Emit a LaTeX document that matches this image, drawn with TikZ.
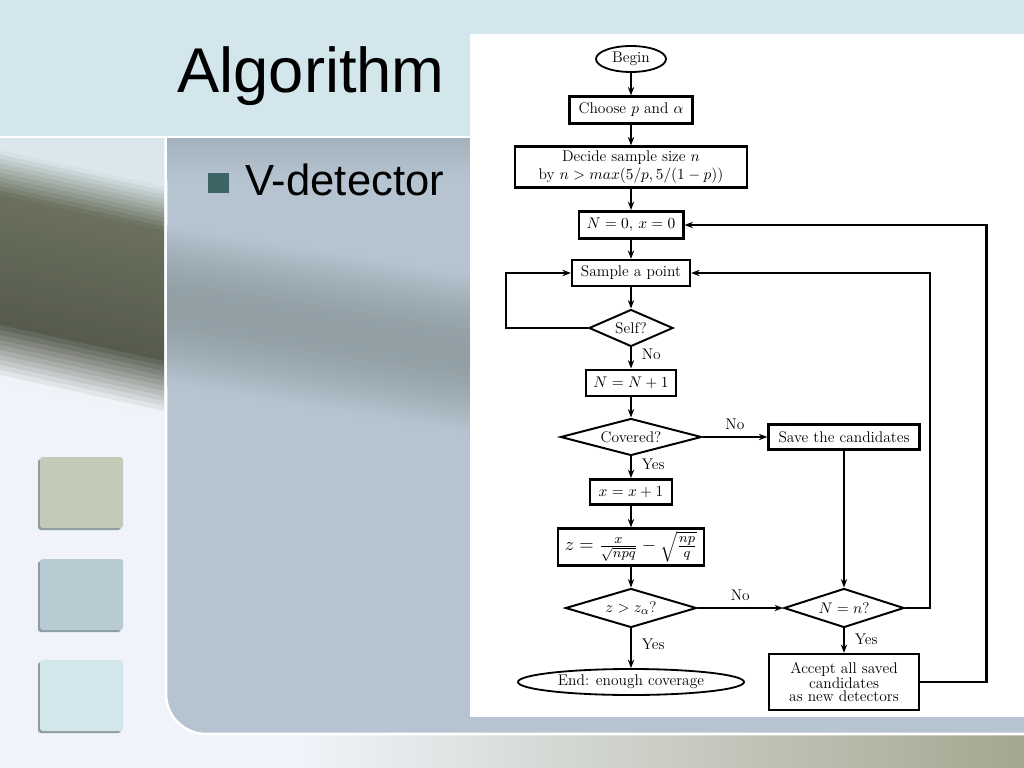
\documentclass[tikz,border=0pt]{standalone}
\usepackage{fontspec}
\newfontfamily\slidefont{Liberation Sans}
\usetikzlibrary{shapes.geometric, arrows.meta}
\definecolor{topband}{HTML}{D2E6EC}
\definecolor{slidebg}{HTML}{F0F4FA}
\definecolor{panelblue}{HTML}{B5C4D0}
\definecolor{paneltop}{HTML}{A3B2BC}
\definecolor{bandgray}{HTML}{919FA5}
\definecolor{photolight}{HTML}{DAE8EE}
\definecolor{olivedark}{HTML}{6A705C}
\definecolor{olivedeep}{HTML}{565B4D}
\definecolor{stripolive}{HTML}{A3A78F}
\definecolor{bulletgreen}{HTML}{3F6466}
\definecolor{sqolive}{HTML}{C3CBB8}
\definecolor{sqblue}{HTML}{B8CBD3}
\definecolor{sqice}{HTML}{D2E6EC}
\definecolor{sqshadow}{HTML}{8C9CA3}

\tikzset{
  flowtext/.style={font=\fontsize{11}{10.5}\selectfont},
  procbox/.style={flowtext, draw, rectangle, line width=1.6pt, align=center, inner sep=1pt},
  boldbox/.style={procbox, line width=2.1pt},
  decision/.style={flowtext, draw, diamond, aspect=3.5, line width=1.4pt, inner sep=0pt},
  terminal/.style={flowtext, draw, ellipse, line width=1.3pt, inner sep=0pt},
  flowarrow/.style={-{Stealth[length=6pt,width=4.5pt]}, line width=1.4pt},
  looparrow/.style={flowarrow, line width=2.1pt},
  thinarrow/.style={flowarrow, line width=0.9pt},
  flowlabel/.style={flowtext, inner sep=1pt}
}

\begin{document}
\begin{tikzpicture}[x=0.025cm, y=-0.025cm]
\clip (0,0) rectangle (1024,768);
% slide background
\fill[slidebg] (0,0) rectangle (1024,768);
\shade[left color=slidebg, right color=stripolive] (300,735) rectangle (1024,768);
% left photo strip, slanted bands
\begin{scope}
  \clip (0,138) rectangle (164,735);
  \fill[photolight] (0,100) -- (164,136) -- (164,186) -- (0,150) -- cycle;
  \foreach \k in {0,...,9}{
    \pgfmathtruncatemacro\pct{\k*10+5}
    \fill[olivedark!\pct!photolight] (0,150+4.5*\k) -- (164,186+4.5*\k) -- (164,191.5+4.5*\k) -- (0,155.5+4.5*\k) -- cycle;
  }
  \foreach \k in {0,...,24}{
    \pgfmathtruncatemacro\pct{\k*4}
    \fill[olivedeep!\pct!olivedark] (0,195+5*\k) -- (164,231+5*\k) -- (164,236.5+5*\k) -- (0,200.5+5*\k) -- cycle;
  }
  \foreach \k in {0,...,11}{
    \pgfmathtruncatemacro\pct{\k*9}
    \fill[slidebg!\pct!olivedeep] (0,320+5*\k) -- (164,356+5*\k) -- (164,361.5+5*\k) -- (0,325.5+5*\k) -- cycle;
  }
\end{scope}
% middle panel
\fill[panelblue, draw=white, line width=1.8pt, rounded corners=1cm] (166,-100) rectangle (1100,734);
\begin{scope}
  \clip[rounded corners=1cm] (167,-100) rectangle (1100,733);
  \shade[top color=paneltop, bottom color=panelblue] (167,138) rectangle (1024,180);
  \foreach \k in {0,...,39}{
    \pgfmathtruncatemacro\pct{100*sin(\k*4.5+2.25)}
    \fill[bandgray!\pct!panelblue] (167,225+4*\k) -- (1024,362+4*\k) -- (1024,366.6+4*\k) -- (167,229.6+4*\k) -- cycle;
  }
\end{scope}
% title band
\fill[topband] (0,0) rectangle (1024,136);
\draw[white, line width=1.8pt] (0,137) -- (1024,137);
% side squares
\foreach \sy/\sc in {457/sqolive, 559/sqblue, 660/sqice}{
  \fill[sqshadow, rounded corners=2pt] (38,\sy+2) rectangle (121,\sy+73);
  \fill[\sc, rounded corners=2pt] (40,\sy) rectangle (123,\sy+71);
}
% slide text
\node[anchor=base east, inner sep=0pt, font=\slidefont\fontsize{45}{50}\selectfont] (title) at (445,93) {Algorithm};
\fill[bulletgreen] (208,173) rectangle (229,193);
\node[anchor=base west, inner sep=0pt, font=\slidefont\fontsize{31}{36}\selectfont] (item) at (245,195) {V-detector};
% flowchart sheet
\fill[white] (470,34) rectangle (1024,717);

\node[terminal, minimum width=1.75cm, minimum height=0.65cm] (begin) at (631,59) {Begin};
\node[procbox, minimum width=3.075cm, minimum height=0.675cm] (choose) at (631,110) {Choose $p$ and $\alpha$};
\node[procbox, minimum width=5.8cm, minimum height=1.025cm, font=\fontsize{11}{12.5}\selectfont] (decide) at (631,167) {Decide sample size $n$\\ by $n > max(5/p, 5/(1-p))$};
\node[boldbox, minimum width=2.6cm, minimum height=0.675cm] (reset) at (631,225) {$N=0,\, x=0$};
\node[procbox, minimum width=2.95cm, minimum height=0.65cm] (sample) at (631,273) {Sample a point};
\node[decision, minimum width=2.1cm, minimum height=0.925cm] (self) at (631,328) {Self?};
\node[boldbox, minimum width=2.25cm, minimum height=0.65cm] (countN) at (631,383) {$N=N+1$};
\node[decision, minimum width=3.525cm, minimum height=0.925cm] (covered) at (631,437) {Covered?};
\node[procbox, minimum width=3.775cm, minimum height=0.625cm] (save) at (844,437) {Save the candidates};
\node[boldbox, minimum width=2.05cm, minimum height=0.625cm] (countx) at (631,492) {$x=x+1$};
\node[procbox, minimum width=3.65cm, minimum height=0.925cm] (zval) at (631,547) {\scalebox{1.2}{$z=\frac{x}{\sqrt{npq}}-\sqrt{\frac{np}{q}}$}};
\node[decision, minimum width=3.275cm, minimum height=0.975cm] (ztest) at (631,608) {$z>z_{\alpha}$?};
\node[decision, minimum width=3cm, minimum height=0.975cm] (ntest) at (844,608) {$N=n$?};
\node[terminal, minimum width=5.65cm, minimum height=0.65cm] (finish) at (631,682) {End: enough coverage};
\node[procbox, minimum width=3.75cm, minimum height=1.4cm, font=\fontsize{11}{9.6}\selectfont] (accept) at (844,682) {Accept all saved\\ candidates\\ as new detectors};

\draw[flowarrow] (begin) -- (choose);
\draw[flowarrow] (choose) -- (decide);
\draw[flowarrow] (decide) -- (reset);
\draw[flowarrow] (reset) -- (sample);
\draw[flowarrow] (sample) -- (self);
\draw[flowarrow] (self) -- node[flowlabel, right=6pt, pos=0.3] {No} (countN);
\draw[flowarrow] (countN) -- (covered);
\draw[flowarrow] (covered) -- node[flowlabel, right=6pt, pos=0.35] {Yes} (countx);
\draw[flowarrow] (countx) -- (zval);
\draw[flowarrow] (zval) -- (ztest);
\draw[flowarrow] (ztest) -- node[flowlabel, right=6pt, pos=0.4] {Yes} (finish);
\draw[thinarrow] (covered) -- node[flowlabel, above=4pt] {No} (save);
\draw[thinarrow] (save) -- (ntest);
\draw[thinarrow] (ztest) -- node[flowlabel, above=4pt] {No} (ntest);
\draw[flowarrow] (ntest) -- node[flowlabel, right=6pt, pos=0.45] {Yes} (accept);
% loops back
\draw[looparrow] (self.west) -- ++(-82,0) |- (sample.west);
\draw[looparrow] (ntest.east) -- ++(25,0) |- (sample.east);
\draw[looparrow] (accept.east) -- ++(66,0) |- (reset.east);
\end{tikzpicture}
\end{document}
